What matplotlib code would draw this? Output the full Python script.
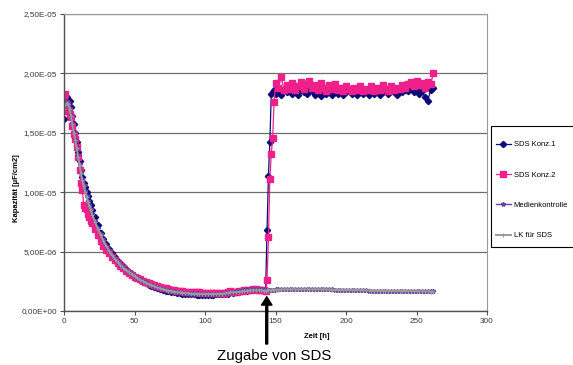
import numpy as np
import matplotlib
matplotlib.use("Agg")
import matplotlib.pyplot as plt
from matplotlib.ticker import FuncFormatter
from matplotlib.patches import Rectangle

plt.rcParams['font.family'] = ['Liberation Sans', 'DejaVu Sans']

SCALE = 1e-5  # values below are in units of 1e-5 µF/cm2

time_h = [0, 1, 2, 3, 4, 5, 6, 7, 8, 9, 10, 11, 12, 13, 14, 15, 16, 17, 18, 19, 20,
          22, 24, 26, 28, 30, 32, 34, 36, 38, 40, 42, 44, 46, 48, 50, 52, 54, 56, 58, 60,
          62, 64, 66, 68, 70, 72, 74, 76, 78, 80, 82, 84, 86, 88, 90, 92, 94, 96, 98, 100,
          102, 104, 106, 108, 110, 112, 114, 116, 118, 120, 122, 124, 126, 128, 130, 132, 134, 136, 138, 140,
          142, 143, 144, 145, 146, 147, 148, 149, 150,
          152, 154, 156, 158, 160, 162, 164, 166, 168, 170, 172, 174, 176, 178, 180,
          182, 184, 186, 188, 190, 192, 194, 196, 198, 200, 202, 204, 206, 208, 210,
          212, 214, 216, 218, 220, 222, 224, 226, 228, 230, 232, 234, 236, 238, 240,
          242, 244, 246, 248, 250, 252, 254, 256, 258, 260, 262]

sds_konz1 = [1.62, 1.76, 1.80, 1.78, 1.77, 1.72, 1.64, 1.57, 1.50, 1.42, 1.34, 1.26, 1.19, 1.13, 1.08, 1.04, 1.00, 0.97, 0.93, 0.89, 0.85,
             0.79, 0.72, 0.66, 0.61, 0.565, 0.525, 0.49, 0.455, 0.425, 0.40, 0.375, 0.35, 0.33, 0.31, 0.29, 0.275, 0.26, 0.245, 0.232, 0.22,
             0.21, 0.20, 0.19, 0.182, 0.175, 0.17, 0.165, 0.16, 0.156, 0.152, 0.149, 0.146, 0.143, 0.141, 0.14, 0.139, 0.138, 0.137, 0.137, 0.137,
             0.137, 0.138, 0.138, 0.139, 0.14, 0.141, 0.143, 0.147, 0.16, 0.155, 0.158, 0.162, 0.165, 0.168, 0.172, 0.175, 0.177, 0.178, 0.176, 0.174,
             0.172, 0.175, 0.68, 1.14, 1.42, 1.83, 1.84, 1.86, 1.83,
             1.85, 1.82, 1.86, 1.84, 1.87, 1.83, 1.85, 1.82, 1.86, 1.84, 1.83, 1.87, 1.85, 1.82, 1.84,
             1.81, 1.85, 1.83, 1.86, 1.82, 1.84, 1.83, 1.85, 1.82, 1.84, 1.86, 1.83, 1.85, 1.82, 1.84,
             1.83, 1.85, 1.82, 1.84, 1.83, 1.85, 1.82, 1.84, 1.86, 1.83, 1.85, 1.84, 1.82, 1.85, 1.84,
             1.86, 1.85, 1.87, 1.84, 1.86, 1.83, 1.85, 1.80, 1.77, 1.86, 1.88]

sds_konz2 = [1.82, 1.83, 1.74, 1.68, 1.66, 1.63, 1.56, 1.49, 1.45, 1.38, 1.30, 1.19, 1.08, 1.02, 0.89, 0.87, 0.86, 0.82, 0.79, 0.76, 0.74,
             0.69, 0.64, 0.59, 0.55, 0.515, 0.485, 0.455, 0.43, 0.405, 0.38, 0.36, 0.34, 0.32, 0.305, 0.29, 0.278, 0.266, 0.255, 0.245, 0.235,
             0.226, 0.218, 0.21, 0.203, 0.197, 0.19, 0.185, 0.18, 0.176, 0.172, 0.169, 0.166, 0.164, 0.162, 0.16, 0.158, 0.157, 0.156, 0.155, 0.154,
             0.153, 0.152, 0.152, 0.152, 0.152, 0.153, 0.154, 0.156, 0.165, 0.162, 0.164, 0.167, 0.17, 0.173, 0.176, 0.179, 0.181, 0.182, 0.18, 0.177,
             0.174, 0.172, 0.26, 0.62, 1.11, 1.32, 1.46, 1.76, 1.92,
             1.88, 1.97, 1.86, 1.90, 1.87, 1.92, 1.86, 1.89, 1.93, 1.87, 1.91, 1.94, 1.88, 1.90, 1.86,
             1.92, 1.88, 1.85, 1.90, 1.87, 1.91, 1.86, 1.88, 1.85, 1.89, 1.87, 1.85, 1.88, 1.86, 1.89,
             1.85, 1.87, 1.86, 1.89, 1.85, 1.88, 1.86, 1.90, 1.87, 1.85, 1.89, 1.86, 1.88, 1.87, 1.90,
             1.88, 1.91, 1.93, 1.89, 1.94, 1.90, 1.92, 1.88, 1.93, 1.91, 2.00]

medienkontrolle = [1.72, 1.75, 1.77, 1.75, 1.71, 1.65, 1.58, 1.51, 1.45, 1.38, 1.31, 1.24, 1.17, 1.11, 1.06, 1.01, 0.97, 0.93, 0.89, 0.86, 0.82,
                   0.76, 0.70, 0.645, 0.595, 0.55, 0.51, 0.475, 0.445, 0.415, 0.39, 0.368, 0.348, 0.33, 0.312, 0.296, 0.281, 0.267, 0.254, 0.242, 0.231,
                   0.22, 0.21, 0.201, 0.193, 0.186, 0.18, 0.174, 0.169, 0.165, 0.161, 0.158, 0.155, 0.153, 0.151, 0.149, 0.148, 0.147, 0.146, 0.145, 0.145,
                   0.145, 0.145, 0.145, 0.146, 0.147, 0.148, 0.15, 0.154, 0.163, 0.162, 0.166, 0.17, 0.174, 0.178, 0.182, 0.185, 0.187, 0.188, 0.187, 0.185,
                   0.182, 0.18, 0.178, 0.178, 0.179, 0.179, 0.18, 0.18, 0.181,
                   0.181, 0.182, 0.181, 0.182, 0.183, 0.182, 0.181, 0.182, 0.183, 0.182, 0.182, 0.183, 0.182, 0.183, 0.184,
                   0.183, 0.182, 0.182, 0.181, 0.181, 0.18, 0.18, 0.179, 0.179, 0.178, 0.178, 0.177, 0.177, 0.176, 0.176,
                   0.175, 0.175, 0.172, 0.171, 0.171, 0.171, 0.17, 0.17, 0.17, 0.17, 0.169, 0.169, 0.169, 0.169, 0.168,
                   0.168, 0.168, 0.168, 0.167, 0.167, 0.167, 0.166, 0.166, 0.165, 0.166, 0.165]

lk_fuer_sds = [1.70, 1.73, 1.75, 1.74, 1.70, 1.64, 1.57, 1.50, 1.44, 1.37, 1.30, 1.23, 1.16, 1.10, 1.05, 1.00, 0.96, 0.92, 0.88, 0.85, 0.81,
               0.75, 0.69, 0.64, 0.59, 0.545, 0.505, 0.47, 0.44, 0.41, 0.385, 0.363, 0.343, 0.325, 0.308, 0.292, 0.277, 0.263, 0.25, 0.238, 0.227,
               0.217, 0.207, 0.198, 0.19, 0.183, 0.177, 0.172, 0.167, 0.163, 0.159, 0.156, 0.153, 0.151, 0.149, 0.147, 0.146, 0.145, 0.144, 0.143, 0.143,
               0.143, 0.143, 0.143, 0.144, 0.145, 0.146, 0.148, 0.151, 0.158, 0.156, 0.159, 0.162, 0.165, 0.168, 0.171, 0.173, 0.174, 0.175, 0.174, 0.173,
               0.172, 0.172, 0.173, 0.174, 0.175, 0.176, 0.177, 0.178, 0.179,
               0.18, 0.181, 0.181, 0.181, 0.182, 0.182, 0.181, 0.181, 0.182, 0.182, 0.181, 0.182, 0.182, 0.182, 0.183,
               0.182, 0.182, 0.181, 0.181, 0.18, 0.18, 0.179, 0.179, 0.178, 0.178, 0.177, 0.177, 0.176, 0.176, 0.175,
               0.175, 0.174, 0.173, 0.172, 0.171, 0.171, 0.171, 0.17, 0.17, 0.17, 0.169, 0.169, 0.169, 0.168, 0.168,
               0.168, 0.168, 0.167, 0.167, 0.167, 0.166, 0.166, 0.166, 0.165, 0.164, 0.163]

series_labels = ["SDS Konz.1", "SDS Konz.2", "Medienkontrolle", "LK für SDS"]
x_ticks = [0, 50, 100, 150, 200, 250, 300]
y_ticks = [0.0, 5e-6, 1e-5, 1.5e-5, 2e-5, 2.5e-5]

t = np.array(time_h, dtype=float)
series = [np.array(s) * SCALE for s in (sds_konz1, sds_konz2, medienkontrolle, lk_fuer_sds)]

W, H = 573, 365
fig = plt.figure(figsize=(W / 100, H / 100), dpi=100)
ax = fig.add_axes([64 / W, 1 - 311 / H, (487 - 64) / W, (311 - 14) / H])

styles = [
    dict(color="#0A0A7A", marker="D", markersize=3.2, lw=0.9),
    dict(color="#F0208A", marker="s", markersize=3.8, lw=0.9),
    dict(color="#6A40A8", marker="*", markersize=3.2, lw=1.0),
    dict(color="#9A9A9A", marker="+", markersize=3.0, lw=1.4, markeredgewidth=0.8),
]
for y, lab, st in zip(series, series_labels, styles):
    ax.plot(t, y, label=lab, **st)

ax.set_xlim(0, 300)
ax.set_ylim(0, 2.5e-5)
ax.set_xticks(x_ticks)
ax.set_yticks(y_ticks)


def sci_de(v, pos):
    s = "%.2E" % v
    return s.replace(".", ",")


ax.yaxis.set_major_formatter(FuncFormatter(sci_de))
ax.grid(axis="y", color="#6E6E6E", lw=0.9)
ax.set_axisbelow(True)
for side in ("left", "bottom"):
    ax.spines[side].set_color("#505050")
    ax.spines[side].set_linewidth(1.0)
for side in ("top", "right"):
    ax.spines[side].set_color("#9A9A9A")
    ax.spines[side].set_linewidth(0.8)
ax.tick_params(axis="both", labelsize=5.9, colors="#505050", labelcolor="#383838",
               length=3, width=0.8, pad=2)

fig.text(317 / W, 1 - 337 / H, "Zeit [h]", fontsize=5.5, fontweight="bold",
         ha="center", va="center")
fig.text(17 / W, 1 - 188 / H, "Kapazität [µF/cm2]", rotation=90, fontsize=5.5,
         fontweight="bold", ha="center", va="center")

# legend box (as in the reference, running off the right edge)
fig.add_artist(Rectangle((491 / W, 1 - 247 / H), 90 / W, 121 / H, transform=fig.transFigure,
                         fill=True, facecolor="white", edgecolor="black", lw=0.8, zorder=4))
leg = fig.legend(loc="upper left", bbox_to_anchor=(491.5 / W, 1 - 136.5 / H),
                 fontsize=5.5, frameon=False, labelspacing=3.0,
                 handlelength=1.9, handletextpad=0.4, borderpad=0.6,
                 borderaxespad=0)
leg.set_zorder(5)

ax.annotate("", xy=(143.8, 1.2e-6), xycoords="data",
            xytext=(266.7, H - 344), textcoords="figure pixels",
            arrowprops=dict(width=1.4, headwidth=7.5, headlength=6.0, color="black", shrink=0),
            annotation_clip=False)
fig.text(274.5 / W, 1 - 356 / H, "Zugabe von SDS", fontsize=10.8, ha="center", va="center")

fig.savefig("out.png", dpi=100)
